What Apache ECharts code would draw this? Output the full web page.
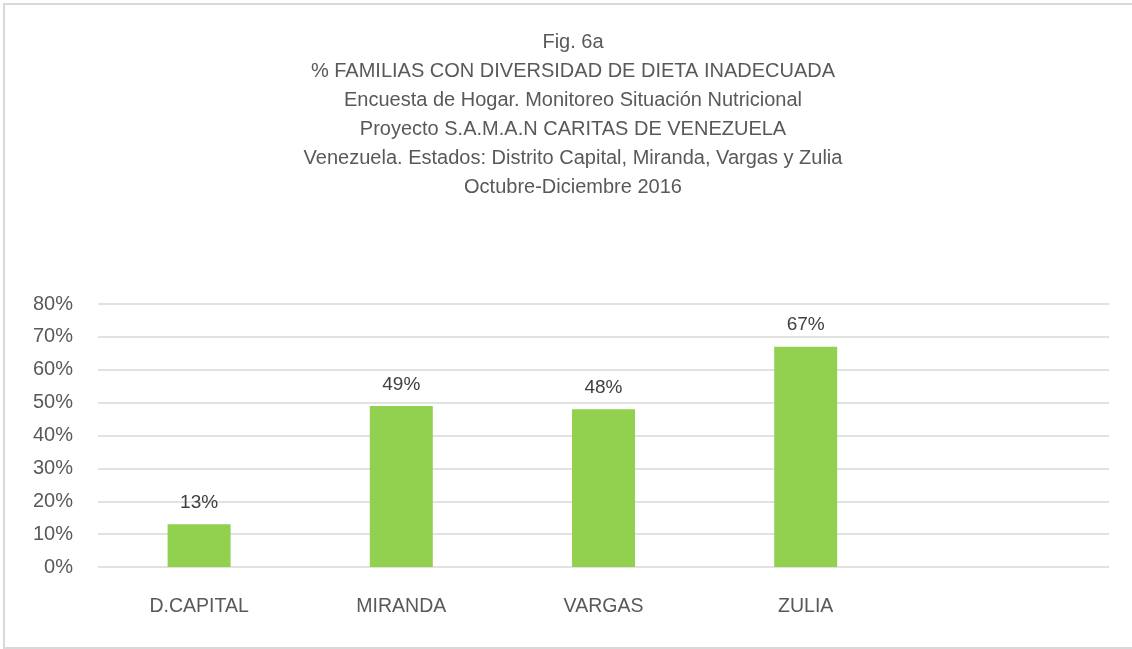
<!DOCTYPE html>
<html>
<head>
<meta charset="utf-8">
<script src="https://cdn.jsdelivr.net/npm/echarts@6/dist/echarts.min.js"></script>
<style>
    html, body { margin: 0; padding: 0; background: #fff; }
    #chart { width: 1132px; height: 649px; }
</style>
</head>
<body>
<div id="chart"></div>
<script>
// data
const categories = ['D.CAPITAL', 'MIRANDA', 'VARGAS', 'ZULIA', '']
const values = [13, 49, 48, 67, null]
const titleLines = [
    'Fig. 6a',
    '% FAMILIAS CON DIVERSIDAD DE DIETA INADECUADA',
    'Encuesta de Hogar. Monitoreo Situación Nutricional',
    'Proyecto S.A.M.A.N CARITAS DE VENEZUELA',
    'Venezuela. Estados: Distrito Capital, Miranda, Vargas y Zulia',
    'Octubre-Diciembre 2016'
]

const font = 'Liberation Sans'
let chart = echarts.init(document.querySelector('#chart'))

let option = {
    animation: false,
    backgroundColor: '#fff',
    // chart area border
    graphic: [{
        type: 'rect',
        shape: { x: 4, y: 4, width: 1140, height: 644 },
        style: { fill: 'none', stroke: '#d9d9d9', lineWidth: 2 },
        silent: true
    }],
    title: {
        text: titleLines.join('\n'),
        left: 568,
        top: 23,
        textAlign: 'center',
        textStyle: {
            fontFamily: font,
            fontSize: 20,
            fontWeight: 'normal',
            color: '#595959',
            lineHeight: 29
        }
    },
    grid: {
        left: 98,
        right: 23,
        top: 304,
        bottom: 82
    },
    xAxis: {
        type: 'category',
        data: categories,
        axisLine: { show: false },
        axisTick: { show: false },
        axisLabel: {
            fontFamily: font,
            fontSize: 19.5,
            color: '#595959',
            margin: 30
        }
    },
    yAxis: {
        type: 'value',
        min: 0,
        max: 80,
        interval: 10,
        axisLine: { show: false },
        axisTick: { show: false },
        splitLine: { lineStyle: { color: '#d9d9d9', width: 1.5 } },
        axisLabel: {
            formatter: '{value}%',
            fontFamily: font,
            fontSize: 20,
            color: '#595959',
            margin: 25
        }
    },
    series: [{
        type: 'bar',
        data: values,
        barWidth: 63,
        itemStyle: { color: '#92d050' },
        label: {
            show: true,
            position: 'top',
            distance: 12,
            formatter: '{c}%',
            fontFamily: font,
            fontSize: 19,
            color: '#404040'
        }
    }]
}

chart.setOption(option)
</script>
</body>
</html>
